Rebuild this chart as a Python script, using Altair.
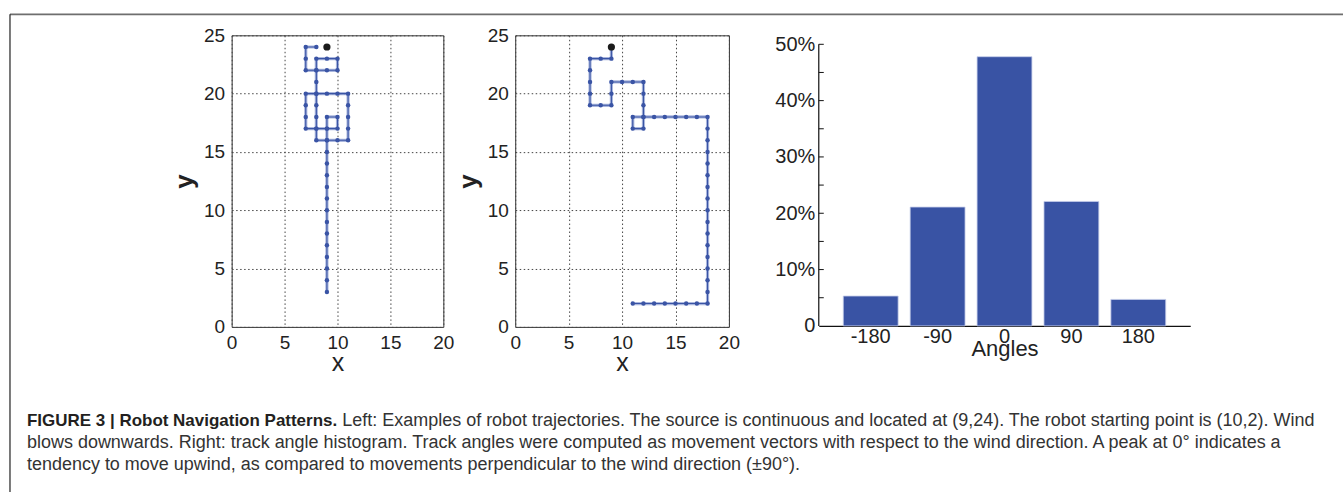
import altair as alt
import pandas as pd

FONT = "Liberation Sans"
BLUE = "#3a54a5"

# ---------------- data ----------------
# Left panel trajectory (ordered path)
left_x = ([9, 9, 9, 9, 9, 9, 9, 9, 9, 9, 9, 9, 9, 9]
          + [10, 11, 11, 11, 11, 11]
          + [10, 9, 8, 7]
          + [7, 7, 7]
          + [8, 9, 10]
          + [10, 9]
          + [9, 9]
          + [8]
          + [8, 8, 8, 8, 8, 8, 8]
          + [9, 10]
          + [10, 9, 8, 7]
          + [7, 7]
          + [8])
left_y = ([3, 4, 5, 6, 7, 8, 9, 10, 11, 12, 13, 14, 15, 16]
          + [16, 16, 17, 18, 19, 20]
          + [20, 20, 20, 20]
          + [19, 18, 17]
          + [17, 17, 17]
          + [18, 18]
          + [17, 16]
          + [16]
          + [17, 18, 19, 20, 21, 22, 23]
          + [23, 23]
          + [22, 22, 22, 22]
          + [23, 24]
          + [24])

# Middle panel trajectory (ordered path)
mid_x = ([11, 12, 13, 14, 15, 16, 17, 18]
         + [18, 18, 18, 18, 18, 18, 18, 18, 18, 18, 18, 18, 18, 18, 18, 18]
         + [17, 16, 15, 14, 13, 12, 11]
         + [11, 12]
         + [12, 12, 12, 12]
         + [11, 10, 9]
         + [9, 9]
         + [8, 7]
         + [7, 7, 7, 7]
         + [8, 9]
         + [9])
mid_y = ([2, 2, 2, 2, 2, 2, 2, 2]
         + [3, 4, 5, 6, 7, 8, 9, 10, 11, 12, 13, 14, 15, 16, 17, 18]
         + [18, 18, 18, 18, 18, 18, 18]
         + [17, 17]
         + [18, 19, 20, 21]
         + [21, 21, 21]
         + [20, 19]
         + [19, 19]
         + [20, 21, 22, 23]
         + [23, 23]
         + [24])

source_x = [9]
source_y = [24]

x_ticks = [0, 5, 10, 15, 20]
y_ticks = [0, 5, 10, 15, 20, 25]

angles = ["-180", "-90", "0", "90", "180"]
freq = [0.053, 0.211, 0.478, 0.221, 0.047]
pct_ticks = [0.0, 0.1, 0.2, 0.3, 0.4, 0.5]
minor_ticks = [0.05, 0.1, 0.15, 0.2, 0.25, 0.3, 0.35, 0.4, 0.45, 0.5]

caption_bold = "FIGURE 3 | Robot Navigation Patterns."
caption_first = ("Left: Examples of robot trajectories. The source is continuous and located at (9,24). "
                 "The robot starting point is (10,2). Wind")
caption_rest = [
    "blows downwards. Right: track angle histogram. Track angles were computed as movement vectors "
    "with respect to the wind direction. A peak at 0\u00b0 indicates a",
    "tendency to move upwind, as compared to movements perpendicular to the wind direction (\u00b190\u00b0).",
]

PLOT_H = 292
ROW_TOP = 34  # page y of the plot tops
CAP_SIZE = 18
BOLD_SIZE = 17

NOVIEW = alt.ViewBackground(stroke="transparent", strokeWidth=0)


def traj_panel(xs, ys, w):
    df = pd.DataFrame({"x": xs, "y": ys, "step": list(range(len(xs)))})
    src = pd.DataFrame({"x": source_x, "y": source_y})
    xenc = alt.X("x:Q", scale=alt.Scale(domain=[0, 20], nice=False, zero=False),
                 axis=alt.Axis(values=x_ticks, title="x", grid=True, gridDash=[1.5, 2.5],
                               gridColor="#444", gridWidth=1, ticks=False, tickSize=0,
                               domain=False, labelFlush=False, labelFont=FONT,
                               labelFontSize=19, labelColor="#222", labelPadding=7,
                               titleFont=FONT, titleFontSize=25, titleFontWeight="normal",
                               titleColor="#222", titleY=44, titleBaseline="alphabetic"))
    yenc = alt.Y("y:Q", scale=alt.Scale(domain=[0, 25], nice=False, zero=False),
                 axis=alt.Axis(values=y_ticks, title="y", grid=True, gridDash=[1.5, 2.5],
                               gridColor="#444", gridWidth=1, ticks=False, tickSize=0,
                               domain=False, labelFlush=False, labelFont=FONT,
                               labelFontSize=19, labelColor="#222", labelPadding=7,
                               titleFont=FONT, titleFontSize=26, titleFontWeight="bold",
                               titleColor="#222", titleX=-39, titleBaseline="alphabetic"))
    base = alt.Chart(df).encode(x=xenc, y=yenc, order=alt.Order("step:Q"))
    glow = base.mark_line(color="#8c9dd2", strokeWidth=3.2, opacity=0.75)
    line = base.mark_line(color=BLUE, strokeWidth=1.1)
    pts = base.mark_circle(color=BLUE, size=20, opacity=1)
    s = alt.Chart(src).mark_circle(color="#1b1b1b", size=52, opacity=1).encode(
        x="x:Q", y="y:Q")
    return alt.layer(glow, line, pts, s).properties(
        width=w, height=PLOT_H,
        view=alt.ViewBackground(stroke="#333", strokeWidth=1))


left = traj_panel(left_x, left_y, 212)
middle = traj_panel(mid_x, mid_y, 214)

# ---------------- bar chart ----------------
bar_df = pd.DataFrame({"angle": angles, "value": freq})
BAR_H = 291
YMAX = 0.5 * BAR_H / 282.0

bars = alt.Chart(bar_df).mark_bar(color="#3953a4", stroke="#c5cdea", strokeWidth=0.8).encode(
    x=alt.X("angle:N", sort=angles,
            scale=alt.Scale(paddingInner=0.18, paddingOuter=0.366),
            axis=alt.Axis(title="Angles", labelAngle=0, ticks=False, tickSize=0,
                          domainColor="#111", domainWidth=1.2, labelFont=FONT,
                          labelFontSize=20, labelColor="#222", labelPadding=1,
                          titleFont=FONT, titleFontSize=22, titleFontWeight="normal",
                          titleColor="#222", titleY=30, titleBaseline="alphabetic")),
    y=alt.Y("value:Q", scale=alt.Scale(domain=[0, YMAX], nice=False),
            axis=alt.Axis(values=pct_ticks, title="", domain=False, ticks=False, tickSize=0,
                          grid=False, labelFont=FONT, labelFontSize=20, labelColor="#222",
                          labelPadding=4,
                          labelExpr="datum.value == 0 ? '0' : format(datum.value, '.0%')")),
)
axis_rule = alt.Chart(pd.DataFrame({"value": [0.0], "value2": [0.5]})).mark_rule(
    color="#111", strokeWidth=1.2).encode(x=alt.value(0), y="value:Q", y2="value2:Q")
minor = alt.Chart(pd.DataFrame({"value": minor_ticks})).mark_rule(
    color="#111", strokeWidth=1).encode(x=alt.value(0), x2=alt.value(5), y="value:Q")
bar_chart = alt.layer(bars, axis_rule, minor).properties(width=372, height=BAR_H, view=NOVIEW)

# ---------------- spacer with frame + caption ----------------
one = pd.DataFrame({"a": [0]})
oy = ROW_TOP  # spacer origin in page coordinates is (0, ROW_TOP)

bound_h = alt.Chart(one).mark_rule(color="white", strokeWidth=1).encode(
    x=alt.value(0), x2=alt.value(1344), y=alt.value(0 - oy))
bound_v = alt.Chart(one).mark_rule(color="white", strokeWidth=1).encode(
    x=alt.value(0), y=alt.value(0 - oy), y2=alt.value(492 - oy))
frame_top = alt.Chart(one).mark_rule(color="#6e6e6e", strokeWidth=1.6).encode(
    x=alt.value(9), x2=alt.value(1344), y=alt.value(13 - oy))
frame_left = alt.Chart(one).mark_rule(color="#222", strokeWidth=1.2).encode(
    x=alt.value(9), y=alt.value(13 - oy), y2=alt.value(492 - oy))

bold_w = 18.283 * BOLD_SIZE + 0.278 * CAP_SIZE
cap_b = alt.Chart(one).mark_text(align="left", baseline="middle", font=FONT, fontSize=BOLD_SIZE,
                                 fontWeight="bold", color="#231f20").encode(
    x=alt.value(26), y=alt.value(420 - oy), text=alt.value(caption_bold))
cap_1 = alt.Chart(one).mark_text(align="left", baseline="middle", font=FONT, fontSize=CAP_SIZE,
                                 color="#333").encode(
    x=alt.value(26 + bold_w), y=alt.value(420 - oy), text=alt.value(caption_first))
cap_2 = alt.Chart(one).mark_text(align="left", baseline="middle", font=FONT, fontSize=CAP_SIZE,
                                 color="#333").encode(
    x=alt.value(26), y=alt.value(442 - oy), text=alt.value(caption_rest[0]))
cap_3 = alt.Chart(one).mark_text(align="left", baseline="middle", font=FONT, fontSize=CAP_SIZE,
                                 color="#333").encode(
    x=alt.value(26), y=alt.value(464 - oy), text=alt.value(caption_rest[1]))

spacer0 = alt.layer(bound_h, bound_v, frame_top, frame_left, cap_b, cap_1, cap_2, cap_3
                    ).properties(width=231, height=PLOT_H, view=NOVIEW)


def gap(w):
    return alt.Chart(one).mark_point(opacity=0).encode(
        x=alt.value(0), y=alt.value(0)).properties(width=w, height=PLOT_H, view=NOVIEW)


chart = alt.hconcat(spacer0, left, gap(72), middle, gap(90), bar_chart,
                    spacing=0, bounds="flush").properties(padding=0).configure_view(
    stroke="transparent", strokeWidth=0).configure(background="white")

chart.save("out.html", embed_options={"renderer": "svg", "actions": False})
